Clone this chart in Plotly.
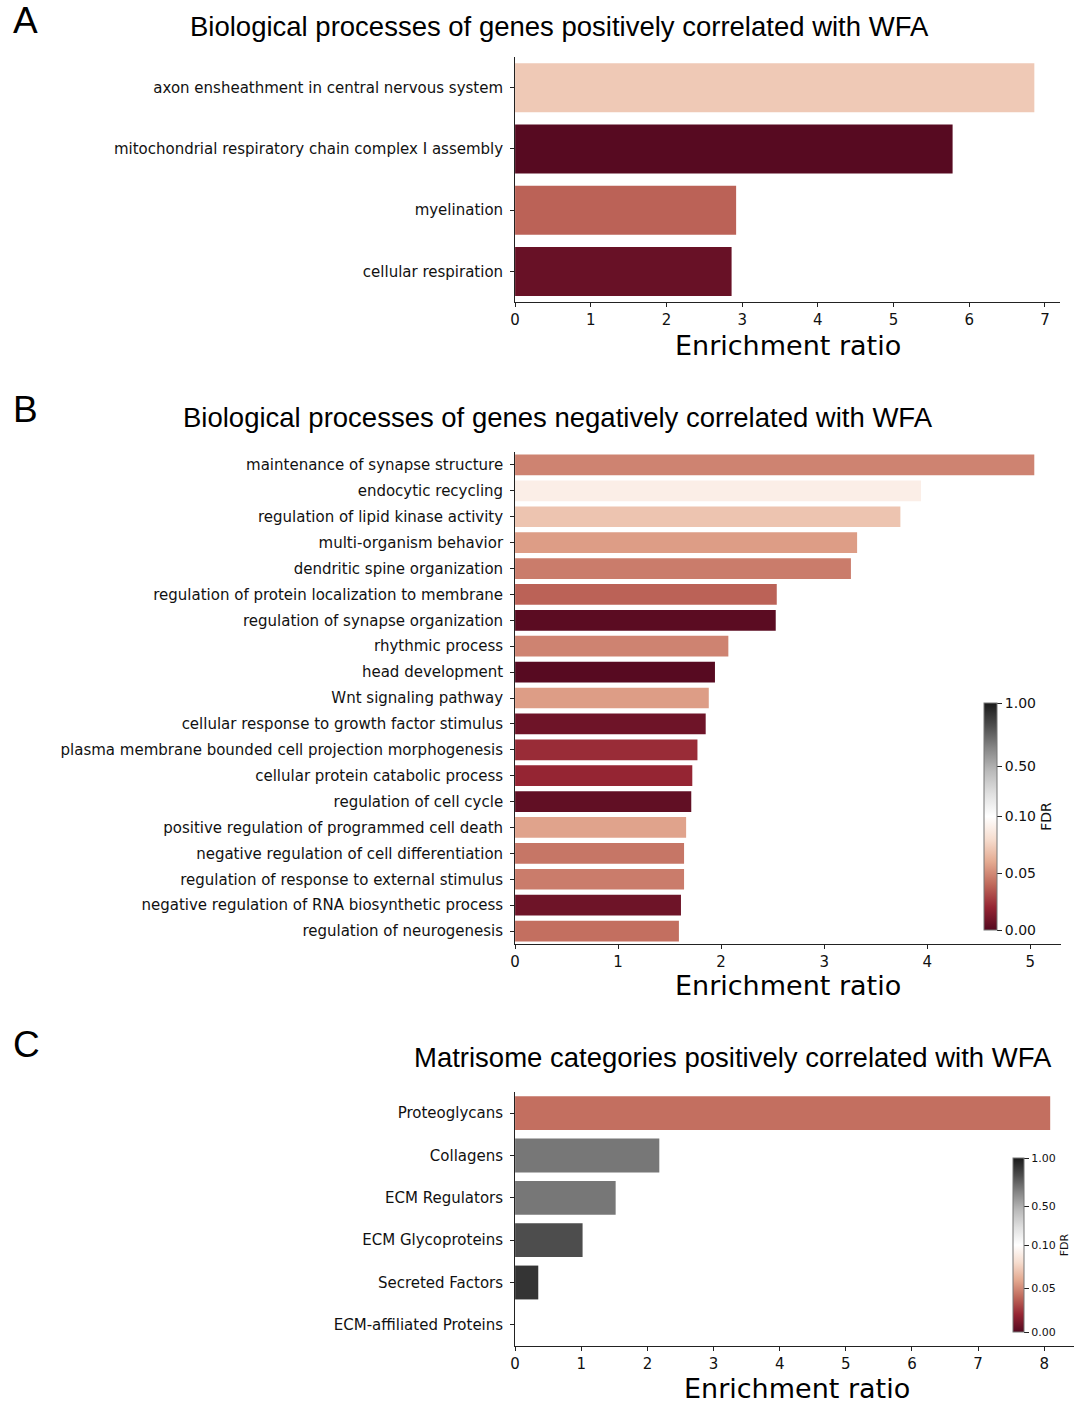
import numpy as np
import plotly.graph_objects as go

W, H = 1076, 1403

# ---------------- data ----------------
a_terms = ["axon ensheathment in central nervous system",
           "mitochondrial respiratory chain complex I assembly",
           "myelination",
           "cellular respiration"]
a_ratio = [6.86, 5.78, 2.92, 2.86]
a_fdr = [0.072, 0.001, 0.038, 0.006]

b_terms = ["maintenance of synapse structure",
           "endocytic recycling",
           "regulation of lipid kinase activity",
           "multi-organism behavior",
           "dendritic spine organization",
           "regulation of protein localization to membrane",
           "regulation of synapse organization",
           "rhythmic process",
           "head development",
           "Wnt signaling pathway",
           "cellular response to growth factor stimulus",
           "plasma membrane bounded cell projection morphogenesis",
           "cellular protein catabolic process",
           "regulation of cell cycle",
           "positive regulation of programmed cell death",
           "negative regulation of cell differentiation",
           "regulation of response to external stimulus",
           "negative regulation of RNA biosynthetic process",
           "regulation of neurogenesis"]
b_ratio = [5.04, 3.94, 3.74, 3.32, 3.26, 2.54, 2.53, 2.07, 1.94, 1.88,
           1.85, 1.77, 1.72, 1.71, 1.66, 1.64, 1.64, 1.61, 1.59]
b_fdr = [0.048, 0.090, 0.070, 0.056, 0.046, 0.038, 0.002, 0.048, 0.001, 0.056,
         0.008, 0.022, 0.020, 0.004, 0.058, 0.044, 0.046, 0.008, 0.042]

c_terms = ["Proteoglycans", "Collagens", "ECM Regulators",
           "ECM Glycoproteins", "Secreted Factors", "ECM-affiliated Proteins"]
c_ratio = [8.09, 2.18, 1.52, 1.02, 0.35, 0.0]
c_fdr = [0.042, 0.69, 0.69, 0.82, 0.91, 1.0]

fdr_ticks = [0.0, 0.05, 0.10, 0.50, 1.00]

# RdGy (ColorBrewer) anchor colours
rdgy = [(103, 0, 31), (178, 24, 43), (214, 96, 77), (244, 165, 130),
        (253, 219, 199), (255, 255, 255), (224, 224, 224), (186, 186, 186),
        (135, 135, 135), (77, 77, 77), (26, 26, 26)]

# ---------------- helpers ----------------
def norm(v, vmin=0.0, vc=0.1, vmax=1.0):
    v = np.asarray(v, dtype=float)
    return np.where(v < vc, 0.5 * (v - vmin) / (vc - vmin),
                    0.5 + 0.5 * (v - vc) / (vmax - vc))

def desat(c, k=0.73):
    L = 0.299 * c[0] + 0.587 * c[1] + 0.114 * c[2]
    return tuple(int(round(L + (ch - L) * k)) for ch in c)

cscale = [[i / (len(rdgy) - 1), "rgb(%d,%d,%d)" % desat(c)] for i, c in enumerate(rdgy)]

def px(x):
    return x / W

def py(y):
    return 1 - y / H

LBL = "DejaVu Sans"
TTL = "Liberation Sans"

fig = go.Figure()

def add_panel(idx, terms, ratio, fdr, xdom, ydom, xrange, cbar=None):
    xa = "x" if idx == 1 else f"x{idx}"
    ya = "y" if idx == 1 else f"y{idx}"
    marker = dict(color=norm(fdr).tolist(), colorscale=cscale, cmin=0, cmax=1,
                  line=dict(width=0))
    if cbar is not None:
        marker["showscale"] = True
        marker["colorbar"] = cbar
    else:
        marker["showscale"] = False
    fig.add_trace(go.Bar(x=ratio, y=terms, orientation="h", width=0.8,
                         marker=marker, xaxis=xa, yaxis=ya,
                         hovertemplate="%{y}: %{x}<extra></extra>"))
    xkey = "xaxis" if idx == 1 else f"xaxis{idx}"
    ykey = "yaxis" if idx == 1 else f"yaxis{idx}"
    fig.update_layout(**{
        xkey: dict(domain=[px(xdom[0]), px(xdom[1])], range=xrange,
                   anchor=ya, showgrid=False, zeroline=False,
                   showline=True, linecolor="#222", linewidth=1,
                   ticks="outside", ticklen=4, tickcolor="#222",
                   dtick=1, tickfont=dict(family=LBL, size=15, color="#111")),
        ykey: dict(domain=[py(ydom[1]), py(ydom[0])], anchor=xa,
                   autorange="reversed", showgrid=False, zeroline=False,
                   showline=True, linecolor="#222", linewidth=1,
                   ticks="outside", ticklen=4, tickcolor="#222",
                   ticklabelstandoff=4,
                   tickfont=dict(family=LBL, size=15, color="#111")),
    })

def make_cbar(x0, ytop, ybot, thick, fs):
    return dict(x=px(x0), xanchor="left", xpad=0, ypad=0,
                y=py(ybot), yanchor="bottom", lenmode="pixels", len=ybot - ytop,
                thickness=thick, thicknessmode="pixels",
                outlinewidth=1, outlinecolor="#777",
                tickmode="array", tickvals=norm(fdr_ticks).tolist(),
                ticktext=[f"{t:.2f}" for t in fdr_ticks],
                ticks="outside", ticklen=5, tickcolor="#222",
                tickfont=dict(family=LBL, size=fs, color="#111"),
                title=dict(text="FDR", side="right",
                           font=dict(family=LBL, size=fs, color="#111")))

add_panel(1, a_terms, a_ratio, a_fdr, (512.5, 1060), (57, 302), [0, 7.2])
add_panel(2, b_terms, b_ratio, b_fdr, (512.5, 1061), (452, 944), [0, 5.3],
          cbar=make_cbar(984, 703, 930, 13, 14))
add_panel(3, c_terms, c_ratio, c_fdr, (512.5, 1074), (1092, 1346), [0, 8.45],
          cbar=make_cbar(1013, 1158, 1332, 11, 11))

ann = []
def text(x, y, s, size, family, xanchor="center"):
    ann.append(dict(x=px(x), y=py(y), xref="paper", yref="paper", text=s,
                    showarrow=False, xanchor=xanchor, yanchor="middle",
                    font=dict(family=family, size=size, color="#000")))

text(6, 21, "A", 37, TTL, "left")
text(6, 409, "B", 37, TTL, "left")
text(6, 1044, "C", 37, TTL, "left")
text(557, 27, "Biological processes of genes positively correlated with WFA", 27.5, TTL)
text(556, 418, "Biological processes of genes negatively correlated with WFA", 27.5, TTL)
text(731, 1057, "Matrisome categories positively correlated with WFA", 27.5, TTL)
text(787, 345, "Enrichment ratio", 27, LBL)
text(787, 985, "Enrichment ratio", 27, LBL)
text(796, 1388, "Enrichment ratio", 27, LBL)

fig.update_layout(width=W, height=H, margin=dict(l=0, r=0, t=0, b=0),
                  paper_bgcolor="white", plot_bgcolor="white",
                  showlegend=False, annotations=ann, bargap=0.2)

fig.write_html("out.html")
